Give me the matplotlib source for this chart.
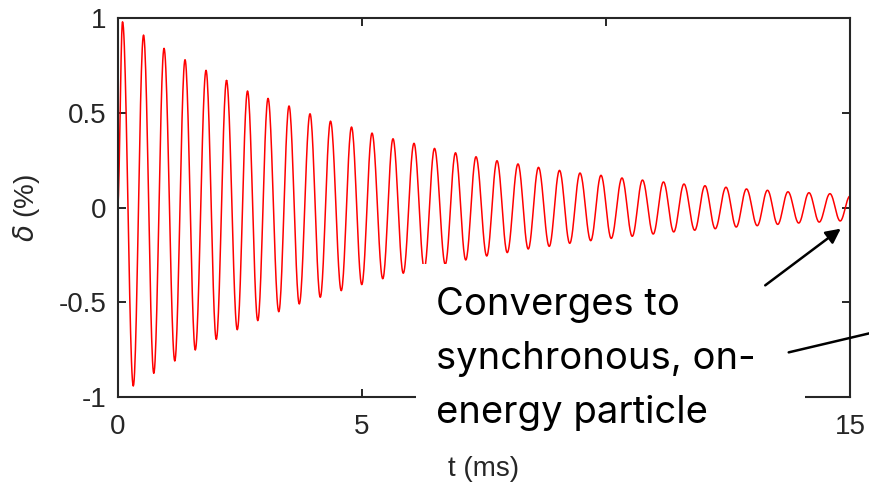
import numpy as np
import matplotlib
matplotlib.use("Agg")
import matplotlib.pyplot as plt
from matplotlib.patches import Rectangle, FancyArrowPatch

# extrema of the damped oscillation (t in ms, delta in %)
peak_t = [0.10, 0.53, 0.95, 1.38, 1.81, 2.23, 2.66, 3.08, 3.51, 3.94, 4.36, 4.79,
          5.21, 5.64, 6.07, 6.49, 6.92, 7.34, 7.77, 8.20, 8.62, 9.05, 9.47, 9.90,
          10.33, 10.75, 11.18, 11.60, 12.03, 12.46, 12.88, 13.31, 13.73, 14.16, 14.59]
peak_v = [0.98, 0.91, 0.84, 0.78, 0.724, 0.67, 0.615, 0.576, 0.536, 0.495, 0.456, 0.425,
          0.393, 0.363, 0.339, 0.312, 0.289, 0.268, 0.247, 0.23, 0.212, 0.196, 0.182, 0.17,
          0.156, 0.145, 0.135, 0.124, 0.115, 0.107, 0.098, 0.091, 0.083, 0.078, 0.073]
trough_t = [0.32, 0.74, 1.17, 1.59, 2.02, 2.45, 2.87, 3.30, 3.72, 4.15, 4.58, 5.00,
            5.43, 5.85, 6.28, 6.71, 7.13, 7.56, 7.98, 8.41, 8.84, 9.26, 9.69, 10.11,
            10.54, 10.97, 11.39, 11.82, 12.24, 12.67, 13.10, 13.52, 13.95, 14.37, 14.80]
trough_v = [-0.942, -0.875, -0.81, -0.752, -0.696, -0.645, -0.597, -0.55, -0.509, -0.474,
            -0.439, -0.407, -0.376, -0.347, -0.322, -0.30, -0.277, -0.256, -0.238, -0.219,
            -0.205, -0.189, -0.175, -0.163, -0.152, -0.14, -0.129, -0.12, -0.112, -0.103,
            -0.096, -0.089, -0.082, -0.077, -0.071]
start_pt = (0.0, 0.0)
end_pt = (15.0, 0.06)

x_ticks = [0, 5, 10, 15]
x_tick_labels = ["0", "5", "", "15"]   # the "10" sits under the text box in the reference
y_ticks = [-1, -0.5, 0, 0.5, 1]
y_tick_labels = ["-1", "-0.5", "0", "0.5", "1"]

# chain the extrema and join them with half-cosine arcs
knots_t = [start_pt[0]]
knots_v = [start_pt[1]]
for pt, pv, tt, tv in zip(peak_t, peak_v, trough_t, trough_v):
    knots_t += [pt, tt]
    knots_v += [pv, tv]
knots_t.append(end_pt[0])
knots_v.append(end_pt[1])

t_curve, v_curve = [], []
s = np.linspace(0, 1, 25)
w = (1 - np.cos(np.pi * s)) / 2
for i in range(len(knots_t) - 1):
    t_curve.extend(knots_t[i] + (knots_t[i + 1] - knots_t[i]) * s)
    v_curve.extend(knots_v[i] + (knots_v[i + 1] - knots_v[i]) * w)

plt.rcParams['font.family'] = ['Liberation Sans', 'DejaVu Sans']
tick_col = '#262626'

fig = plt.figure(figsize=(8.69, 4.87), dpi=100)
ax = fig.add_axes([0.1354, 0.1848, 0.8427, 0.7782])
ax.plot(t_curve, v_curve, color='#ff0000', lw=1.1)

ax.set_xlim(0, 15)
ax.set_ylim(-1, 1)
ax.set_xticks(x_ticks)
ax.set_xticklabels(x_tick_labels)
ax.set_yticks(y_ticks)
ax.set_yticklabels(y_tick_labels)
ax.tick_params(direction='in', length=6, width=1.4, top=True, right=True,
               labelsize=20, colors=tick_col)
ax.tick_params(axis='x', pad=12)
ax.tick_params(axis='y', pad=8)
for sp in ax.spines.values():
    sp.set_linewidth(1.5)
    sp.set_color(tick_col)

ax.set_xlabel('t (ms)', fontsize=20, color=tick_col)
ax.set_ylabel(r'$\delta$ (%)', fontsize=20, color=tick_col)
ax.xaxis.set_label_coords(0.5, -0.155)
ax.yaxis.set_label_coords(-0.103, 0.5)

# white text box laid over the lower right of the axes
W, H = 869, 487
fig.add_artist(Rectangle((416 / W, (H - 446) / H), (805 - 416) / W, (446 - 264) / H,
                         transform=fig.transFigure, facecolor='white',
                         edgecolor='none', zorder=5))
fig.text(436 / W, (H - 359) / H, 'Converges to\nsynchronous, on-\nenergy particle',
         fontsize=27.5, family=['Inter', 'DejaVu Sans'], color='black',
         va='center', ha='left', linespacing=1.64, zorder=6)

fig.add_artist(FancyArrowPatch((763, H - 287), (843, H - 227), transform=None,
                               arrowstyle='-|>', color='black', lw=1.8,
                               mutation_scale=22, zorder=7))
fig.add_artist(FancyArrowPatch((786, H - 353), (875, H - 332), transform=None,
                               arrowstyle='-', color='black', lw=1.8, zorder=7))

fig.savefig('out.png', dpi=100)
